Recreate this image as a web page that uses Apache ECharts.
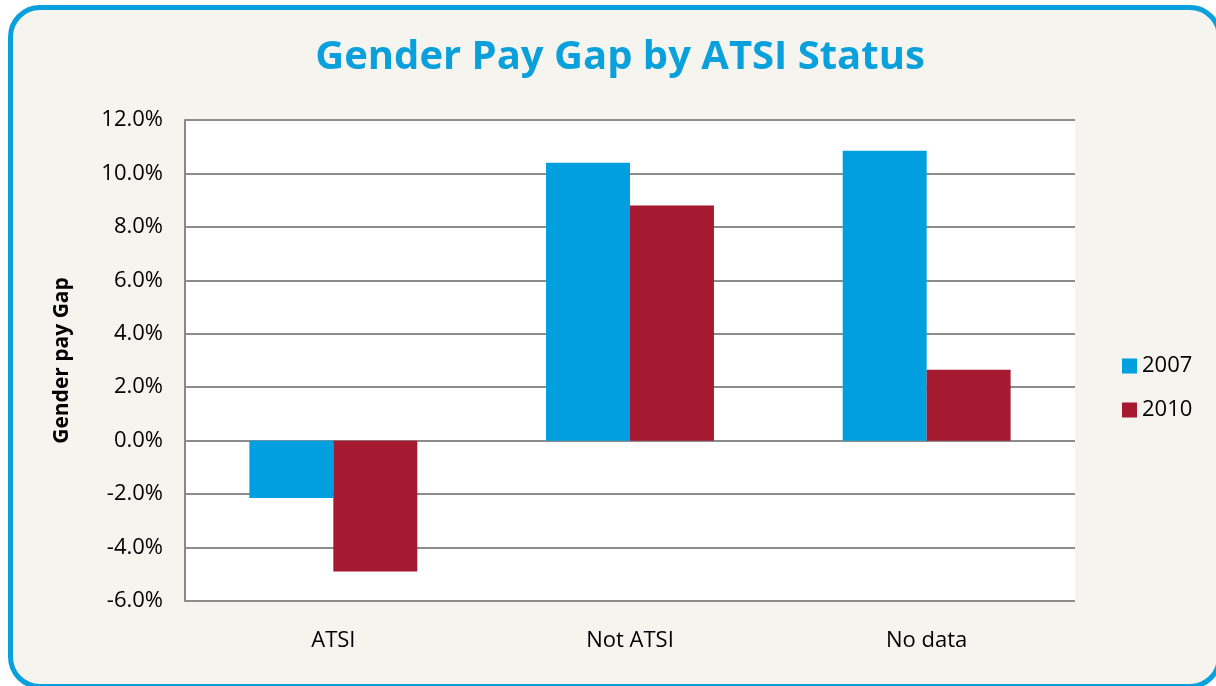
<!DOCTYPE html>
<html>
<head>
<meta charset="utf-8">
<script src="https://cdn.jsdelivr.net/npm/echarts@6/dist/echarts.min.js"></script>
<style>
html,body{margin:0;padding:0;background:#fff;}
#frame{position:absolute;left:8px;top:5px;width:1214px;height:684px;box-sizing:border-box;
  border:5px solid #0aa0dc;border-radius:32px;background:#f5f4ee;}
#chart{position:absolute;left:0;top:0;width:1216px;height:686px;}
</style>
</head>
<body>
<div id="frame"></div>
<div id="chart"></div>
<script>
var categories = ['ATSI', 'Not ATSI', 'No data'];
var years = ['2007', '2010'];
var gap2007 = [-2.15, 10.4, 10.85];
var gap2010 = [-4.9, 8.8, 2.65];
var yTicks = [-6, 12, 2];

var dom = document.getElementById('chart');
var myChart = echarts.init(dom);
var font = '"Open Sans", sans-serif';
var option = {
    backgroundColor: 'transparent',
    title: {
        text: 'Gender Pay Gap by ATSI Status',
        left: 615,
        textAlign: 'center',
        top: 33,
        textStyle: {color: '#0aa0dc', fontSize: 40, fontWeight: 'bold', fontFamily: font}
    },
    legend: {
        orient: 'vertical',
        left: 1117,
        top: 350,
        itemWidth: 15,
        itemHeight: 15,
        itemGap: 22,
        icon: 'rect',
        textStyle: {fontSize: 22, color: '#000', fontFamily: font},
        data: years
    },
    grid: {
        left: 185, right: 141, top: 120, bottom: 85,
        show: true, backgroundColor: '#fff', borderWidth: 0
    },
    xAxis: {
        type: 'category',
        data: categories,
        axisTick: {show: false},
        axisLine: {show: false},
        axisLabel: {fontSize: 22, color: '#000', fontFamily: font, margin: 29}
    },
    yAxis: {
        type: 'value',
        min: yTicks[0], max: yTicks[1], interval: yTicks[2],
        name: 'Gender pay Gap',
        nameLocation: 'middle',
        nameGap: 112,
        nameTextStyle: {fontSize: 21, fontWeight: 'bold', color: '#000', fontFamily: font},
        axisLine: {show: true, lineStyle: {color: '#888', width: 2}},
        axisTick: {show: false},
        splitLine: {lineStyle: {color: '#8c8c8c', width: 2}},
        axisLabel: {fontSize: 22, color: '#000', fontFamily: font, margin: 22,
            formatter: function (v) { return v.toFixed(1) + '%'; }}
    },
    series: [
        {name: years[0], type: 'bar', data: gap2007, barWidth: '28.3%', barGap: '0%',
         itemStyle: {color: '#009fdf'}},
        {name: years[1], type: 'bar', data: gap2010, barWidth: '28.3%',
         itemStyle: {color: '#a51931'}}
    ]
};
myChart.setOption(option);
</script>
</body>
</html>
